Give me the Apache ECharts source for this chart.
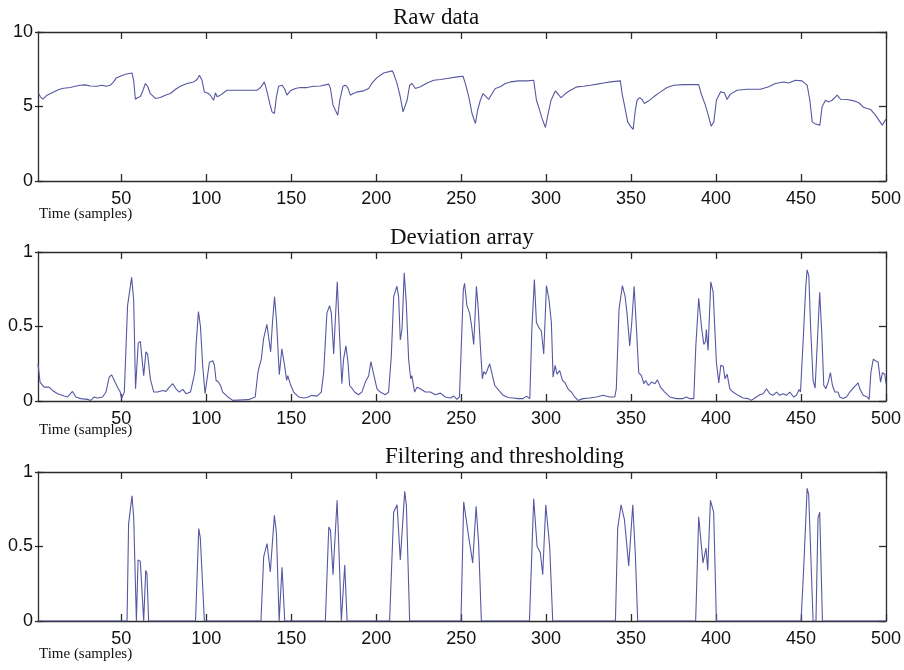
<!DOCTYPE html>
<html>
<head>
<meta charset="utf-8">
<script src="https://cdn.jsdelivr.net/npm/echarts@6/dist/echarts.min.js"></script>
<style>html,body{margin:0;padding:0;background:#fff}#c{width:904px;height:670px}</style>
</head>
<body>
<div id="c"></div>
<script>
// ---- data ----
const panelTitles = ['Raw data', 'Deviation array', 'Filtering and thresholding'];
const xAxisName = 'Time (samples)';
const xTicks = [50, 100, 150, 200, 250, 300, 350, 400, 450, 500];
const yTicksRaw = [0, 5, 10];
const yTicksDev = [0, 0.5, 1];

const rawData = [
[1,5.98],[2.4,5.65],[3.9,5.49],[6.3,5.76],[10.2,5.98],[13.2,6.14],[16.1,6.23],[20,6.27],[22.9,6.36],[25.9,6.43],
[28.8,6.45],[31.8,6.38],[35.7,6.36],[38.6,6.43],[41.2,6.36],[43.6,6.43],[45.5,6.65],[47.1,6.92],[49.4,7.03],[52.4,7.17],
[56.3,7.25],[57.3,6.76],[58.3,5.49],[59.7,5.6],[61.2,5.65],[62.8,6.09],[64.2,6.54],[65.5,6.36],[67.1,5.87],[70.1,5.54],
[73,5.6],[75.9,5.76],[78.9,5.87],[81.8,6.14],[84.7,6.36],[88.7,6.54],[92.6,6.65],[94.6,6.81],[96,7.1],[97.5,6.76],
[98.9,5.98],[101.4,5.87],[102.8,5.69],[104.4,5.42],[105.4,5.92],[106.4,5.65],[108.3,5.76],[112.2,6.09],[116.2,6.09],[124,6.09],
[129.9,6.09],[131.9,6.27],[134.2,6.65],[135.8,5.98],[137.4,5.2],[138.7,4.64],[140.1,4.53],[141.3,5.65],[142.6,6.36],[144.6,6.43],
[146,6.21],[147.5,5.76],[149.5,6.05],[152.4,6.21],[155.4,6.27],[159.3,6.27],[163.2,6.36],[167.2,6.38],[172.1,6.5],[173.1,6.21],
[174.6,5.09],[176,4.75],[177.4,4.42],[178.6,5.42],[180.5,6.36],[181.9,6.43],[183.3,6.27],[184.8,5.76],[186.4,5.87],[188.8,5.98],
[192.7,6.05],[195.6,6.21],[197.6,6.58],[200.5,6.94],[204.4,7.25],[209.4,7.39],[210.3,7.21],[212.3,6.54],[214.2,5.65],[215.8,4.64],
[216.8,4.53],[218.2,5.42],[219.7,6.43],[221.1,6.54],[223.1,6.21],[226,6.32],[230,6.58],[233.9,6.76],[237.8,6.81],[241.7,6.88],
[247.6,6.99],[251.1,7.03],[252.5,6.54],[254.5,5.65],[256.4,4.53],[258.4,3.86],[259.7,4.75],[261.3,5.42],[262.9,5.87],[264.8,5.65],
[266.2,5.47],[268.2,5.87],[270.1,6.21],[273.1,6.32],[276,6.54],[279,6.65],[283.9,6.72],[288.8,6.72],[292.7,6.76],[294.3,5.42],
[295.6,4.98],[297.6,4.2],[299.6,3.59],[301,4.42],[302.9,5.42],[305.5,6.05],[307.5,5.76],[308.8,5.6],[311.4,5.87],[314.3,6.09],
[318.2,6.32],[322.1,6.36],[326.1,6.43],[330,6.5],[333.9,6.58],[337.8,6.65],[343.7,6.72],[344.7,5.87],[346.3,4.98],[348,3.97],
[349.6,3.68],[351.2,3.46],[352.5,4.75],[353.5,5.42],[355.1,5.6],[356.5,5.47],[357.8,5.2],[360.4,5.38],[363.3,5.65],[367.3,5.98],
[371.2,6.27],[375.1,6.43],[381,6.47],[389.8,6.47],[391.2,5.87],[393.7,5.09],[395.7,4.31],[397.1,3.68],[398.7,3.97],[400.2,5.42],
[402.6,5.98],[404.9,5.92],[406.5,5.47],[408.4,5.83],[412.4,6.09],[418.3,6.16],[426.1,6.16],[431,6.32],[434.9,6.54],[439.8,6.65],
[442.8,6.58],[446.7,6.76],[450.6,6.72],[453.6,6.43],[455.2,5.42],[456.6,3.97],[458.5,3.82],[461.1,3.75],[462.4,4.98],[464.4,5.42],
[466.4,5.31],[468.3,5.42],[471.3,5.76],[473.2,5.49],[477.2,5.47],[481.1,5.38],[484,5.25],[487,4.93],[490.9,4.8],[493.8,4.42],
[497.8,3.75],[500,4.15]
];

const deviationData = [
[1,0.25],[2.2,0.127],[3,0.138],[4.6,0.093],[7.5,0.093],[9.5,0.071],[12.5,0.049],[16.4,0.033],[18.4,0.027],[21.3,0.064],
[23.3,0.027],[26.2,0.016],[30.1,0.011],[32.1,0.004],[34.1,0.027],[36,0.02],[39,0.027],[41,0.06],[42.9,0.16],[44.3,0.176],
[45.9,0.138],[47.8,0.093],[49.4,0.06],[50.2,0.016],[51.8,0.06],[53.7,0.64],[56.1,0.83],[57.3,0.68],[58.4,0.082],[60,0.39],
[61.2,0.4],[62,0.39],[63.2,0.17],[64.5,0.33],[65.5,0.315],[67.1,0.149],[69.1,0.06],[71.4,0.06],[74.4,0.071],[76.3,0.064],
[78.3,0.093],[80.3,0.116],[82.2,0.082],[84.2,0.06],[86.2,0.078],[88.1,0.049],[90.7,0.06],[92.7,0.16],[93.4,0.204],[94,0.37],
[95.4,0.6],[96.6,0.5],[97.9,0.24],[99.3,0.049],[100.5,0.149],[101.9,0.26],[103.9,0.27],[104.8,0.24],[105.8,0.138],[107.2,0.127],
[108.4,0.104],[109.7,0.06],[112.7,0.027],[115.6,0.004],[124.9,0.009],[128.8,0.027],[130.4,0.19],[131.4,0.24],[132.4,0.28],[133.7,0.415],
[135.7,0.515],[136.7,0.505],[137.9,0.33],[139,0.53],[140.2,0.7],[141.4,0.53],[143,0.176],[144.5,0.35],[146.1,0.24],[147.3,0.138],
[148,0.17],[149.4,0.116],[151.4,0.06],[154.4,0.027],[157.3,0.02],[159.3,0.024],[162.2,0.038],[165.2,0.033],[167.7,0.06],[169.1,0.19],
[171,0.59],[172.6,0.64],[173.6,0.59],[175,0.315],[175.9,0.53],[177.1,0.8],[178.3,0.48],[179.8,0.116],[180.8,0.28],[182.2,0.37],
[183.4,0.26],[184.4,0.104],[185.7,0.087],[187.3,0.06],[189.6,0.042],[191.6,0.06],[193.6,0.127],[195.6,0.17],[196.9,0.264],[198.5,0.18],
[200.5,0.082],[202.4,0.06],[205.4,0.042],[207.3,0.06],[208.9,0.3],[210.3,0.7],[212.2,0.77],[213.2,0.7],[214.2,0.41],[215.2,0.48],
[216.5,0.86],[217.7,0.66],[219.1,0.28],[220.3,0.149],[221,0.17],[222.6,0.06],[224,0.093],[226,0.082],[228.9,0.06],[231.9,0.06],
[234.8,0.042],[237.8,0.053],[240.7,0.027],[243.7,0.02],[245.6,0.033],[247.6,0.011],[249,0.027],[249.6,0.016],[251.3,0.75],[252,0.79],
[253.4,0.64],[255,0.59],[256.2,0.5],[257.4,0.38],[259,0.77],[260.1,0.615],[261.3,0.37],[262.5,0.149],[263.3,0.198],[264.4,0.18],
[266.8,0.25],[268.4,0.17],[269.8,0.104],[271.7,0.078],[274.7,0.038],[277.6,0.024],[280.6,0.02],[283.5,0.016],[286.5,0.016],[288.4,0.033],
[290.4,0.016],[291.6,0.48],[293.1,0.815],[294.3,0.527],[295.9,0.49],[297.2,0.47],[298.6,0.315],[300.2,0.775],[301.7,0.68],[303.1,0.527],
[304.1,0.16],[305.3,0.24],[306.4,0.18],[308,0.204],[309.6,0.138],[310.9,0.127],[312.9,0.082],[314.9,0.06],[316.8,0.027],[318.8,0.004],
[321.7,0.016],[325.6,0.02],[329.6,0.027],[333.5,0.038],[337.4,0.027],[340.4,0.027],[341.3,0.082],[342.9,0.615],[344.9,0.775],[346.5,0.7],
[347.6,0.59],[349.2,0.37],[350.4,0.527],[351.8,0.77],[353.1,0.5],[354.5,0.19],[356.1,0.17],[357.5,0.116],[358.6,0.138],[360.2,0.104],
[362,0.127],[364,0.116],[365.5,0.142],[367.3,0.093],[369.8,0.06],[372.8,0.027],[376.7,0.016],[380.6,0.016],[382.6,0.027],[384.5,0.016],
[386.9,0.016],[388.1,0.37],[389.8,0.69],[391.4,0.5],[392.8,0.38],[393.8,0.4],[394.3,0.48],[395.3,0.34],[396.9,0.8],[398.3,0.73],
[399.3,0.48],[400.2,0.26],[401.6,0.122],[402.8,0.24],[404.2,0.233],[405.3,0.149],[406.5,0.18],[408.1,0.082],[410,0.06],[413,0.038],
[415.9,0.02],[418.9,0.016],[420.8,0.004],[422.8,0.02],[425.7,0.042],[427.7,0.049],[429.7,0.082],[431.6,0.049],[433.6,0.038],[435.6,0.06],
[437.5,0.038],[439.5,0.049],[441.4,0.038],[443.4,0.06],[445.7,0.027],[447.3,0.038],[448.9,0.078],[449.7,0.06],[451.3,0.415],[452.8,0.77],
[453.6,0.88],[454.6,0.84],[455.7,0.48],[457.1,0.138],[458.3,0.087],[459.5,0.37],[461,0.73],[462.2,0.46],[463.4,0.104],[464.6,0.082],
[466,0.127],[467.3,0.19],[468.5,0.104],[469.9,0.06],[471.8,0.06],[472.8,0.027],[474.8,0.016],[476.8,0.027],[478.7,0.06],[480.7,0.087],
[483.6,0.122],[484.6,0.082],[486.6,0.038],[488.9,0.027],[490.1,0.011],[491.1,0.19],[492.5,0.28],[493.8,0.27],[495.4,0.26],[496.8,0.127],
[497.9,0.19],[499.3,0.18],[500,0.116]
];

const filteredData = [
[1,0],[53.4,0],[54.3,0.65],[56.3,0.84],[57.3,0.7],[58.9,0],[59.9,0.41],[61.2,0.4],[62.2,0.39],[63.2,0],
[64.4,0.34],[65.1,0.32],[66.1,0],[93.7,0],[95.6,0.62],[96.5,0.56],[98.9,0],[132.2,0],[133.8,0.43],[135.8,0.52],
[137.7,0.33],[140.1,0.71],[141.3,0.59],[142.9,0],[144.6,0.36],[146.2,0],[170.1,0],[172.1,0.63],[173.1,0.61],[174.6,0.31],
[177,0.81],[177.9,0.54],[179.5,0],[181.5,0.375],[182.9,0],[207.9,0],[210.3,0.73],[212.3,0.78],[214.2,0.41],[216.8,0.87],
[217.8,0.77],[219.7,0],[249.9,0],[251.5,0.8],[254.5,0.56],[256.8,0.39],[258.8,0.77],[260.3,0.52],[261.9,0],[290.2,0],
[292.7,0.82],[294.7,0.5],[296.6,0.46],[298,0.31],[299.8,0.78],[302.1,0.5],[303.9,0],[340.8,0],[342.1,0.62],[344.1,0.78],
[346.1,0.68],[348.6,0.37],[351,0.78],[352.5,0.45],[353.9,0],[388,0],[389.8,0.7],[392.3,0.39],[394.1,0.49],[395.1,0.34],
[396.7,0.81],[398.6,0.73],[400.2,0],[450,0],[451.6,0.36],[453.6,0.89],[454.5,0.85],[457.1,0],[458.8,0],[460,0.69],
[461,0.73],[462.6,0],[500,0]
];

// ---- layout / style ----
const LINE_COLOR = '#5757a3';
const AXIS_COLOR = '#2b2b2b';
const plotTops = [32, 252, 472];
const plotH = 149;
const titleY = [19, 239, 458];
const titleX = [393, 390, 385];
const nameY = [216, 432, 656];

const grids = [], xAxes = [], yAxes = [], series = [], graphics = [];
const seriesData = [rawData, deviationData, filteredData];
const yTickSets = [yTicksRaw, yTicksDev, yTicksDev];

for (let i = 0; i < 3; i++) {
  grids.push({ left: 38, right: 18, top: plotTops[i], height: plotH });
  const yMax = yTickSets[i][yTickSets[i].length - 1];
  xAxes.push({
    type: 'value', gridIndex: i, min: 1, max: 500, position: 'bottom',
    axisLine: { show: true, onZero: false, lineStyle: { color: AXIS_COLOR, width: 1.3 } },
    axisTick: { show: true, inside: true, length: 7, customValues: xTicks, lineStyle: { color: AXIS_COLOR, width: 1.3 } },
    axisLabel: { show: true, customValues: xTicks, margin: 9, color: '#111', fontSize: 18, fontFamily: 'Liberation Sans' },
    splitLine: { show: false }
  });
  xAxes.push({
    type: 'value', gridIndex: i, min: 1, max: 500, position: 'top',
    axisLine: { show: true, onZero: false, lineStyle: { color: AXIS_COLOR, width: 1.3 } },
    axisTick: { show: true, inside: true, length: 7, customValues: xTicks, lineStyle: { color: AXIS_COLOR, width: 1.3 } },
    axisLabel: { show: false },
    splitLine: { show: false }
  });
  yAxes.push({
    type: 'value', gridIndex: i, min: 0, max: yMax, position: 'left',
    axisLine: { show: true, onZero: false, lineStyle: { color: AXIS_COLOR, width: 1.3 } },
    axisTick: { show: true, inside: false, length: 3, customValues: yTickSets[i], lineStyle: { color: AXIS_COLOR, width: 1.3 } },
    axisLabel: { show: true, customValues: yTickSets[i], margin: 5, color: '#111', fontSize: 18, fontFamily: 'Liberation Sans' },
    splitLine: { show: false }
  });
  yAxes.push({
    type: 'value', gridIndex: i, min: 0, max: yMax, position: 'left',
    axisLine: { show: false },
    axisTick: { show: true, inside: true, length: 5, customValues: yTickSets[i], lineStyle: { color: AXIS_COLOR, width: 1.3 } },
    axisLabel: { show: false },
    splitLine: { show: false }
  });
  yAxes.push({
    type: 'value', gridIndex: i, min: 0, max: yMax, position: 'right',
    axisLine: { show: true, onZero: false, lineStyle: { color: AXIS_COLOR, width: 1.3 } },
    axisTick: { show: true, inside: true, length: 7, customValues: yTickSets[i], lineStyle: { color: AXIS_COLOR, width: 1.3 } },
    axisLabel: { show: false },
    splitLine: { show: false }
  });
  series.push({
    type: 'line', xAxisIndex: i * 2, yAxisIndex: i * 3,
    data: seriesData[i], showSymbol: false, symbol: 'none',
    lineStyle: { color: LINE_COLOR, width: 1.1 }, z: 1
  });
  graphics.push({
    type: 'text', left: titleX[i], top: titleY[i] - 13,
    style: { text: panelTitles[i], font: '23px "Liberation Serif"', fill: '#111' }
  });
  graphics.push({
    type: 'text', left: 39, top: nameY[i] - 9,
    style: { text: xAxisName, font: '15px "Liberation Serif"', fill: '#111' }
  });
}

const chart = echarts.init(document.getElementById('c'), null, { renderer: 'canvas' });
chart.setOption({
  animation: false,
  backgroundColor: '#fff',
  grid: grids,
  xAxis: xAxes,
  yAxis: yAxes,
  series: series,
  graphic: graphics
});
</script>
</body>
</html>
